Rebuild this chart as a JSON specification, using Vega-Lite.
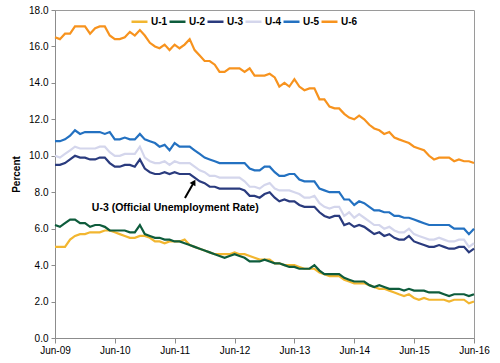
{
 "$schema": "https://vega.github.io/schema/vega-lite/v6.json",
 "width": 419, "height": 328,
 "autosize": {"type": "none"},
 "padding": {"left": 55, "top": 10, "right": 26, "bottom": 25},
 "background": "white",
 "config": {
  "font": "Liberation Sans",
  "view": {"stroke": "#9a9a9a", "strokeWidth": 1},
  "axis": {"grid": false, "labelFont": "Liberation Sans", "titleFont": "Liberation Sans", "labelColor": "#000", "titleColor": "#000", "domainColor": "#8c8c8c", "tickColor": "#8c8c8c", "labelFontSize": 10, "labelOverlap": false, "labelFlush": false}
 },
 "datasets": {
  "rates": [
   {"d":"2009-06-01","U-1":5.0,"U-2":6.2,"U-3":9.5,"U-4":10.0,"U-5":10.8,"U-6":16.5},
   {"d":"2009-07-01","U-1":5.0,"U-2":6.1,"U-3":9.5,"U-4":9.9,"U-5":10.8,"U-6":16.4},
   {"d":"2009-08-01","U-1":5.0,"U-2":6.3,"U-3":9.6,"U-4":10.1,"U-5":10.9,"U-6":16.7},
   {"d":"2009-09-01","U-1":5.4,"U-2":6.5,"U-3":9.8,"U-4":10.3,"U-5":11.1,"U-6":16.7},
   {"d":"2009-10-01","U-1":5.6,"U-2":6.5,"U-3":10.0,"U-4":10.5,"U-5":11.4,"U-6":17.1},
   {"d":"2009-11-01","U-1":5.7,"U-2":6.3,"U-3":9.9,"U-4":10.4,"U-5":11.2,"U-6":17.1},
   {"d":"2009-12-01","U-1":5.7,"U-2":6.3,"U-3":9.9,"U-4":10.4,"U-5":11.3,"U-6":17.1},
   {"d":"2010-01-01","U-1":5.8,"U-2":6.1,"U-3":9.8,"U-4":10.4,"U-5":11.3,"U-6":16.7},
   {"d":"2010-02-01","U-1":5.8,"U-2":6.2,"U-3":9.8,"U-4":10.4,"U-5":11.3,"U-6":17.0},
   {"d":"2010-03-01","U-1":5.8,"U-2":6.2,"U-3":9.9,"U-4":10.5,"U-5":11.3,"U-6":17.1},
   {"d":"2010-04-01","U-1":5.9,"U-2":6.1,"U-3":9.9,"U-4":10.5,"U-5":11.2,"U-6":17.1},
   {"d":"2010-05-01","U-1":5.9,"U-2":5.9,"U-3":9.6,"U-4":10.2,"U-5":11.3,"U-6":16.6},
   {"d":"2010-06-01","U-1":5.8,"U-2":5.9,"U-3":9.4,"U-4":10.0,"U-5":10.9,"U-6":16.4},
   {"d":"2010-07-01","U-1":5.7,"U-2":5.9,"U-3":9.4,"U-4":10.0,"U-5":10.9,"U-6":16.4},
   {"d":"2010-08-01","U-1":5.6,"U-2":5.9,"U-3":9.5,"U-4":10.1,"U-5":11.0,"U-6":16.5},
   {"d":"2010-09-01","U-1":5.5,"U-2":5.8,"U-3":9.5,"U-4":10.1,"U-5":10.9,"U-6":16.8},
   {"d":"2010-10-01","U-1":5.5,"U-2":5.8,"U-3":9.4,"U-4":10.1,"U-5":10.9,"U-6":16.6},
   {"d":"2010-11-01","U-1":5.6,"U-2":6.2,"U-3":9.8,"U-4":10.5,"U-5":11.2,"U-6":16.9},
   {"d":"2010-12-01","U-1":5.6,"U-2":5.7,"U-3":9.3,"U-4":9.9,"U-5":10.9,"U-6":16.6},
   {"d":"2011-01-01","U-1":5.5,"U-2":5.6,"U-3":9.1,"U-4":9.7,"U-5":10.8,"U-6":16.2},
   {"d":"2011-02-01","U-1":5.3,"U-2":5.5,"U-3":9.0,"U-4":9.6,"U-5":10.7,"U-6":16.0},
   {"d":"2011-03-01","U-1":5.3,"U-2":5.5,"U-3":9.0,"U-4":9.6,"U-5":10.5,"U-6":15.9},
   {"d":"2011-04-01","U-1":5.2,"U-2":5.4,"U-3":9.1,"U-4":9.7,"U-5":10.6,"U-6":16.1},
   {"d":"2011-05-01","U-1":5.3,"U-2":5.4,"U-3":9.0,"U-4":9.5,"U-5":10.3,"U-6":15.8},
   {"d":"2011-06-01","U-1":5.3,"U-2":5.3,"U-3":9.1,"U-4":9.7,"U-5":10.7,"U-6":16.1},
   {"d":"2011-07-01","U-1":5.3,"U-2":5.3,"U-3":9.0,"U-4":9.6,"U-5":10.5,"U-6":15.9},
   {"d":"2011-08-01","U-1":5.4,"U-2":5.2,"U-3":9.0,"U-4":9.6,"U-5":10.5,"U-6":16.1},
   {"d":"2011-09-01","U-1":5.1,"U-2":5.1,"U-3":9.0,"U-4":9.6,"U-5":10.5,"U-6":16.4},
   {"d":"2011-10-01","U-1":5.0,"U-2":5.0,"U-3":8.8,"U-4":9.4,"U-5":10.3,"U-6":15.8},
   {"d":"2011-11-01","U-1":4.9,"U-2":4.9,"U-3":8.6,"U-4":9.2,"U-5":10.1,"U-6":15.5},
   {"d":"2011-12-01","U-1":4.8,"U-2":4.8,"U-3":8.5,"U-4":9.1,"U-5":9.9,"U-6":15.2},
   {"d":"2012-01-01","U-1":4.7,"U-2":4.7,"U-3":8.3,"U-4":8.9,"U-5":9.8,"U-6":15.2},
   {"d":"2012-02-01","U-1":4.6,"U-2":4.6,"U-3":8.3,"U-4":8.9,"U-5":9.7,"U-6":15.0},
   {"d":"2012-03-01","U-1":4.6,"U-2":4.5,"U-3":8.2,"U-4":8.8,"U-5":9.6,"U-6":14.6},
   {"d":"2012-04-01","U-1":4.6,"U-2":4.4,"U-3":8.2,"U-4":8.8,"U-5":9.6,"U-6":14.6},
   {"d":"2012-05-01","U-1":4.6,"U-2":4.5,"U-3":8.2,"U-4":8.8,"U-5":9.6,"U-6":14.8},
   {"d":"2012-06-01","U-1":4.7,"U-2":4.6,"U-3":8.2,"U-4":8.8,"U-5":9.6,"U-6":14.8},
   {"d":"2012-07-01","U-1":4.6,"U-2":4.5,"U-3":8.2,"U-4":8.8,"U-5":9.6,"U-6":14.8},
   {"d":"2012-08-01","U-1":4.6,"U-2":4.4,"U-3":8.1,"U-4":8.6,"U-5":9.6,"U-6":14.6},
   {"d":"2012-09-01","U-1":4.5,"U-2":4.2,"U-3":7.8,"U-4":8.3,"U-5":9.3,"U-6":14.8},
   {"d":"2012-10-01","U-1":4.4,"U-2":4.2,"U-3":7.8,"U-4":8.3,"U-5":9.2,"U-6":14.4},
   {"d":"2012-11-01","U-1":4.3,"U-2":4.2,"U-3":7.7,"U-4":8.2,"U-5":9.2,"U-6":14.4},
   {"d":"2012-12-01","U-1":4.3,"U-2":4.3,"U-3":7.9,"U-4":8.4,"U-5":9.4,"U-6":14.4},
   {"d":"2013-01-01","U-1":4.3,"U-2":4.2,"U-3":8.0,"U-4":8.5,"U-5":9.4,"U-6":14.5},
   {"d":"2013-02-01","U-1":4.1,"U-2":4.1,"U-3":7.7,"U-4":8.2,"U-5":9.1,"U-6":14.3},
   {"d":"2013-03-01","U-1":4.1,"U-2":4.1,"U-3":7.5,"U-4":8.1,"U-5":8.9,"U-6":13.8},
   {"d":"2013-04-01","U-1":4.0,"U-2":4.0,"U-3":7.6,"U-4":8.1,"U-5":8.9,"U-6":14.0},
   {"d":"2013-05-01","U-1":4.0,"U-2":3.9,"U-3":7.5,"U-4":8.1,"U-5":9.0,"U-6":13.8},
   {"d":"2013-06-01","U-1":4.0,"U-2":3.9,"U-3":7.5,"U-4":8.0,"U-5":9.0,"U-6":14.2},
   {"d":"2013-07-01","U-1":3.9,"U-2":3.8,"U-3":7.3,"U-4":7.9,"U-5":8.7,"U-6":13.8},
   {"d":"2013-08-01","U-1":3.8,"U-2":3.8,"U-3":7.2,"U-4":7.7,"U-5":8.6,"U-6":13.6},
   {"d":"2013-09-01","U-1":3.8,"U-2":3.8,"U-3":7.2,"U-4":7.7,"U-5":8.6,"U-6":13.7},
   {"d":"2013-10-01","U-1":3.8,"U-2":4.0,"U-3":7.2,"U-4":7.8,"U-5":8.6,"U-6":13.7},
   {"d":"2013-11-01","U-1":3.6,"U-2":3.7,"U-3":6.9,"U-4":7.4,"U-5":8.2,"U-6":13.1},
   {"d":"2013-12-01","U-1":3.5,"U-2":3.5,"U-3":6.7,"U-4":7.2,"U-5":8.1,"U-6":13.1},
   {"d":"2014-01-01","U-1":3.4,"U-2":3.5,"U-3":6.6,"U-4":7.1,"U-5":8.0,"U-6":12.7},
   {"d":"2014-02-01","U-1":3.4,"U-2":3.5,"U-3":6.7,"U-4":7.2,"U-5":8.0,"U-6":12.6},
   {"d":"2014-03-01","U-1":3.4,"U-2":3.5,"U-3":6.7,"U-4":7.2,"U-5":8.0,"U-6":12.6},
   {"d":"2014-04-01","U-1":3.2,"U-2":3.3,"U-3":6.2,"U-4":6.7,"U-5":7.6,"U-6":12.3},
   {"d":"2014-05-01","U-1":3.1,"U-2":3.2,"U-3":6.3,"U-4":6.9,"U-5":7.6,"U-6":12.1},
   {"d":"2014-06-01","U-1":3.0,"U-2":3.1,"U-3":6.1,"U-4":6.6,"U-5":7.3,"U-6":12.0},
   {"d":"2014-07-01","U-1":3.0,"U-2":3.1,"U-3":6.2,"U-4":6.8,"U-5":7.5,"U-6":12.2},
   {"d":"2014-08-01","U-1":3.0,"U-2":3.1,"U-3":6.1,"U-4":6.6,"U-5":7.4,"U-6":12.0},
   {"d":"2014-09-01","U-1":2.9,"U-2":2.9,"U-3":5.9,"U-4":6.4,"U-5":7.2,"U-6":11.7},
   {"d":"2014-10-01","U-1":2.8,"U-2":2.8,"U-3":5.7,"U-4":6.2,"U-5":7.0,"U-6":11.5},
   {"d":"2014-11-01","U-1":2.7,"U-2":2.9,"U-3":5.8,"U-4":6.2,"U-5":7.0,"U-6":11.4},
   {"d":"2014-12-01","U-1":2.7,"U-2":2.8,"U-3":5.6,"U-4":6.0,"U-5":6.9,"U-6":11.2},
   {"d":"2015-01-01","U-1":2.6,"U-2":2.7,"U-3":5.7,"U-4":6.1,"U-5":6.9,"U-6":11.3},
   {"d":"2015-02-01","U-1":2.5,"U-2":2.7,"U-3":5.5,"U-4":5.9,"U-5":6.7,"U-6":11.0},
   {"d":"2015-03-01","U-1":2.4,"U-2":2.7,"U-3":5.4,"U-4":5.8,"U-5":6.7,"U-6":10.9},
   {"d":"2015-04-01","U-1":2.3,"U-2":2.6,"U-3":5.4,"U-4":5.8,"U-5":6.6,"U-6":10.8},
   {"d":"2015-05-01","U-1":2.4,"U-2":2.7,"U-3":5.6,"U-4":6.0,"U-5":6.6,"U-6":10.7},
   {"d":"2015-06-01","U-1":2.2,"U-2":2.6,"U-3":5.3,"U-4":5.7,"U-5":6.5,"U-6":10.5},
   {"d":"2015-07-01","U-1":2.1,"U-2":2.6,"U-3":5.2,"U-4":5.6,"U-5":6.4,"U-6":10.4},
   {"d":"2015-08-01","U-1":2.2,"U-2":2.6,"U-3":5.1,"U-4":5.5,"U-5":6.3,"U-6":10.3},
   {"d":"2015-09-01","U-1":2.1,"U-2":2.5,"U-3":5.0,"U-4":5.4,"U-5":6.2,"U-6":10.0},
   {"d":"2015-10-01","U-1":2.1,"U-2":2.5,"U-3":5.0,"U-4":5.4,"U-5":6.2,"U-6":9.8},
   {"d":"2015-11-01","U-1":2.1,"U-2":2.5,"U-3":5.1,"U-4":5.5,"U-5":6.2,"U-6":9.9},
   {"d":"2015-12-01","U-1":2.1,"U-2":2.4,"U-3":5.0,"U-4":5.4,"U-5":6.2,"U-6":9.9},
   {"d":"2016-01-01","U-1":2.0,"U-2":2.3,"U-3":4.9,"U-4":5.3,"U-5":6.2,"U-6":9.9},
   {"d":"2016-02-01","U-1":2.1,"U-2":2.4,"U-3":4.9,"U-4":5.3,"U-5":6.0,"U-6":9.7},
   {"d":"2016-03-01","U-1":2.1,"U-2":2.4,"U-3":5.0,"U-4":5.4,"U-5":6.0,"U-6":9.8},
   {"d":"2016-04-01","U-1":2.1,"U-2":2.4,"U-3":5.0,"U-4":5.4,"U-5":6.0,"U-6":9.7},
   {"d":"2016-05-01","U-1":1.9,"U-2":2.3,"U-3":4.7,"U-4":5.0,"U-5":5.7,"U-6":9.7},
   {"d":"2016-06-01","U-1":2.0,"U-2":2.4,"U-3":4.9,"U-4":5.2,"U-5":6.0,"U-6":9.6}
  ],
  "note": [{"d":"2011-06-05","value":7.13,"label":"U-3 (Official Unemployment Rate)"}],
  "arrow": [{"d":"2011-08-03","value":7.68,"d2":"2011-09-27","v2":8.55}],
  "head": [{"d":"2011-09-27","value":8.55}]
 },
 "encoding": {
  "x": {"field": "d", "type": "temporal", "title": null,
   "scale": {"type": "utc", "domain": [{"year":2009,"month":6,"date":1,"utc":true},{"year":2016,"month":6,"date":1,"utc":true}]},
   "axis": {"format": "%b-%y", "tickSize": 5, "labelPadding": 2, "labelFlush": false, "labelOverlap": false,
    "values": [{"year":2009,"month":6,"date":1,"utc":true},{"year":2010,"month":6,"date":1,"utc":true},{"year":2011,"month":6,"date":1,"utc":true},{"year":2012,"month":6,"date":1,"utc":true},{"year":2013,"month":6,"date":1,"utc":true},{"year":2014,"month":6,"date":1,"utc":true},{"year":2015,"month":6,"date":1,"utc":true},{"year":2016,"month":6,"date":1,"utc":true}]}},
  "y": {"field": "value", "type": "quantitative", "title": "Percent",
   "scale": {"domain": [0, 18], "nice": false},
   "axis": {"values": [0,2,4,6,8,10,12,14,16,18], "format": ".1f", "tickSize": 4, "labelPadding": 3, "labelOverlap": false, "titleFontWeight": "bold", "titleFontSize": 10, "titlePadding": 7}}
 },
 "layer": [
  {
   "data": {"name": "rates"},
   "transform": [{"fold": ["U-1","U-2","U-3","U-4","U-5","U-6"], "as": ["series","value"]}],
   "mark": {"type": "line", "strokeWidth": 2.2},
   "encoding": {
    "color": {"field": "series", "type": "nominal",
     "scale": {"domain": ["U-1","U-2","U-3","U-4","U-5","U-6"], "range": ["#F2B630","#0E5C3C","#2A3B7E","#D4D6EC","#2371C1","#F7931E"]},
     "legend": {"orient": "none", "legendX": 75, "legendY": 2, "direction": "horizontal", "title": null, "symbolType": "stroke", "symbolStrokeWidth": 2.5, "symbolSize": 256, "labelFontWeight": "bold", "labelFontSize": 10, "labelFont": "Liberation Sans", "labelColor": "#000", "labelOffset": 2, "columnPadding": -5, "padding": 0}}
   }
  },
  {
   "data": {"name": "note"},
   "mark": {"type": "text", "fontWeight": "bold", "fontSize": 10.5, "font": "Liberation Sans", "color": "#000"},
   "encoding": {"text": {"field": "label"}}
  },
  {
   "data": {"name": "arrow"},
   "mark": {"type": "rule", "strokeWidth": 2, "color": "#000"},
   "encoding": {"x2": {"field": "d2"}, "y2": {"field": "v2"}}
  },
  {
   "data": {"name": "head"},
   "mark": {"type": "point", "shape": "triangle-up", "filled": true, "color": "#000", "opacity": 1, "size": 45, "angle": 29},
   "encoding": {}
  }
 ]
}
